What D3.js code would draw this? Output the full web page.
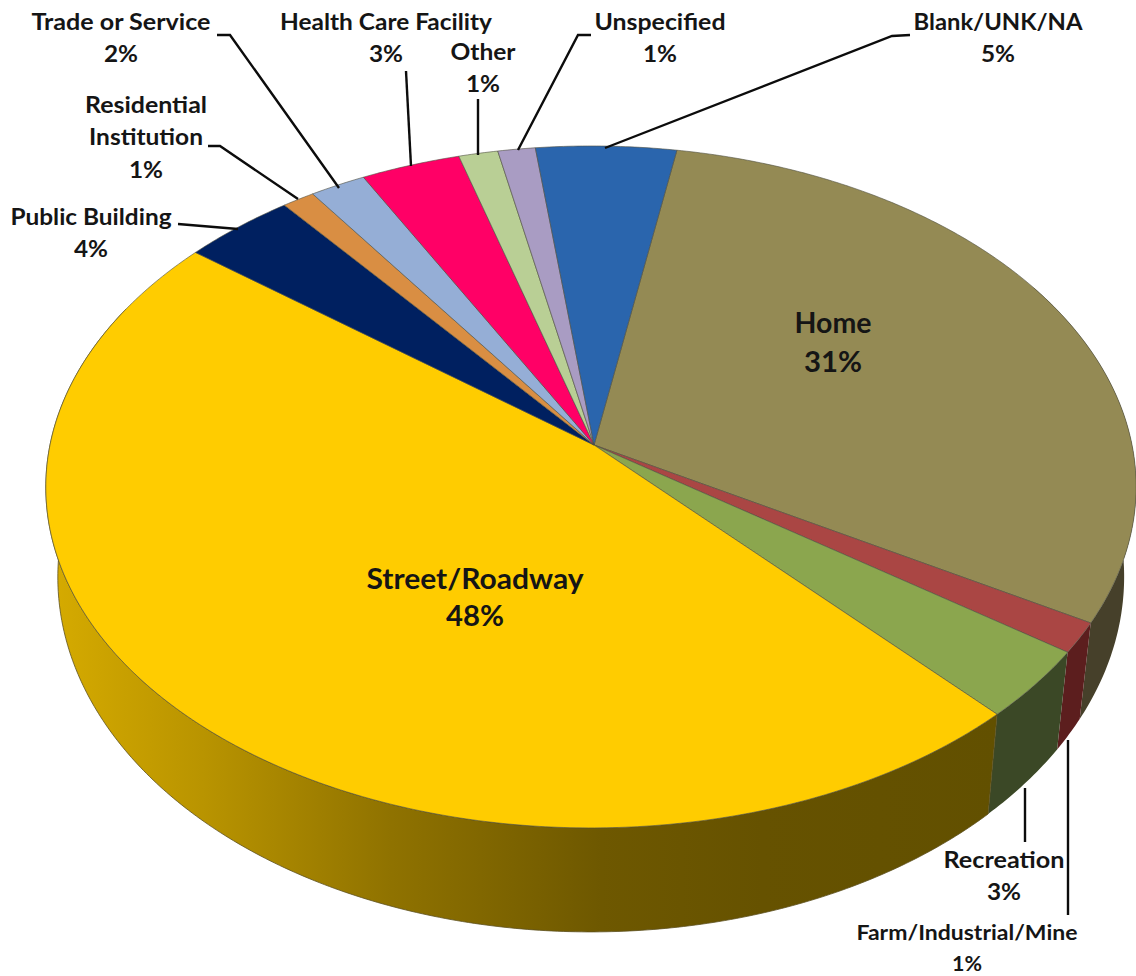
<!DOCTYPE html>
<html>
<head>
<meta charset="utf-8">
<script src="https://cdn.jsdelivr.net/npm/d3@7"></script>
<style>
html,body{margin:0;padding:0;background:#fff;overflow:hidden}
svg{display:block}
text{font-family:Lato,"Open Sans",sans-serif;font-weight:700;fill:#151515;text-anchor:middle;dominant-baseline:central}
</style>
</head>
<body>
<div id="chart"></div>
<script>
// ---- data ----
const categories = ["Home","Farm/Industrial/Mine","Recreation","Street/Roadway","Public Building","Residential Institution","Trade or Service","Health Care Facility","Other","Unspecified","Blank/UNK/NA"];
const shares = [30.58,1.44,3.31,47.44,3.72,1.08,1.86,3.31,1.31,1.25,4.69];
const percentLabels = ["31%","1%","3%","48%","4%","1%","2%","3%","1%","1%","5%"];
const topColors = ["#948a54","#aa4644","#8ba64e","#ffcc00","#002060","#d98e43","#95aed6","#ff0066","#b9cf95","#a99cc3","#2a65ad"];
const wallColors = ["#46402a","#5c1e1e","#3b4826","url(#yellowWall)","#001030","#6c4720","#4a576b","#800033","#5c674a","#544e61","#153256"];
const firstAngleDeg = 9.9;

// ---- layout ----
const W = 1136, H = 976;
const cx = 594, cy = 445, A = 541, B = 335.8, p = 0.123, q = 0.0055;
const wallScale = 0.978, wallBase = 88, wallSlope = -16;

const labelLayout = [
  {lines:["Home"],x:833,ys:[322],size:28,w:[77]},
  {lines:["Street/Roadway"],x:475,ys:[578],size:28,w:[217]},
  {lines:["Trade or Service"],x:121,ys:[21],size:23.5,w:[179]},
  {lines:["Health Care Facility"],x:386,ys:[21],size:23.5,w:[212]},
  {lines:["Other"],x:483,ys:[51],size:23.5,w:[65]},
  {lines:["Unspecified"],x:660,ys:[21],size:23.5,w:[131]},
  {lines:["Blank/UNK/NA"],x:998,ys:[21],size:23.5,w:[169]},
  {lines:["Residential","Institution"],x:146,ys:[104,136],size:23.5,w:[122,114]},
  {lines:["Public Building"],x:91,ys:[216],size:23.5,w:[161]},
  {lines:["Recreation"],x:1004,ys:[859],size:23.5,w:[121]},
  {lines:["Farm/Industrial/Mine"],x:967,ys:[932],size:20.5,w:[221]}
];
const pctLayout = {"Home":[833,361,28,58],"Street/Roadway":[475,615,28,58],"Trade or Service":[121,53,23.5,34],
  "Health Care Facility":[386,53,23.5,34],"Other":[483,83,23.5,34],"Unspecified":[660,53,23.5,34],"Blank/UNK/NA":[998,53,23.5,34],
  "Residential Institution":[146,169,23.5,34],"Public Building":[91,248,23.5,34],"Recreation":[1004,891,23.5,34],"Farm/Industrial/Mine":[967,963,20.5,30]};
const leaders = [
  [[217,35],[230,35],[339,188]],
  [[406,71],[411,166]],
  [[478,99],[478,155]],
  [[591,35],[578,35],[518,150]],
  [[910,35],[892,36],[605,148]],
  [[208,146],[220,146],[298,199]],
  [[178,224],[238,229]],
  [[1025,788],[1025,842]],
  [[1068,740],[1068,915]]
];

// projected circle: a = clockwise from top, r in 0..1
function project(a, r = 1) {
  const u = r * Math.sin(a), v = r * Math.cos(a), w = 1 + p * v + q * u;
  return [cx + A * u / w, cy - B * v / w];
}
function projectLow(a) {
  const [x, y] = project(a);
  return [cx - 3 + (x - cx + 3) * wallScale, y + wallBase + wallSlope * Math.cos(a)];
}
function samples(a0, a1) {
  const n = Math.max(2, Math.ceil((a1 - a0) / 0.01));
  return d3.range(n + 1).map(i => a0 + (a1 - a0) * i / n);
}

const svg = d3.select("#chart").append("svg").attr("width", W).attr("height", H).attr("viewBox", [0, 0, W, H]);
svg.append("rect").attr("width", W).attr("height", H).attr("fill", "#fff");

const grad = svg.append("defs").append("linearGradient").attr("id", "yellowWall")
  .attr("gradientUnits", "userSpaceOnUse").attr("x1", 50).attr("x2", 1000).attr("y1", 0).attr("y2", 0);
[[0,"#d6ab00"],[0.16,"#b99400"],[0.36,"#8f7200"],[0.58,"#6e5800"],[0.75,"#665200"],[1,"#625000"]]
  .forEach(([o, c]) => grad.append("stop").attr("offset", o).attr("stop-color", c));

const start = firstAngleDeg * Math.PI / 180;
const pie = d3.pie().sort(null).startAngle(start).endAngle(start + 2 * Math.PI);
const slices = pie(shares).map((d, i) => ({...d, i}));
const line = d3.line();

// walls, only the part facing the viewer
const frontFrom = 60 * Math.PI / 180, frontTo = 295 * Math.PI / 180;
svg.append("g").selectAll("path").data(slices.filter(d => d.endAngle > frontFrom && d.startAngle < frontTo))
  .join("path")
  .attr("d", d => {
    const a = samples(Math.max(d.startAngle, frontFrom), Math.min(d.endAngle, frontTo));
    return line([...a.map(t => project(t)), ...a.slice().reverse().map(projectLow)]) + "Z";
  })
  .attr("fill", d => wallColors[d.i])
  .attr("stroke", d => wallColors[d.i] === "url(#yellowWall)" ? "#5d5020" : "none")
  .attr("stroke-width", 0.8);

// top faces
svg.append("g").selectAll("path").data(slices).join("path")
  .attr("d", d => line([[cx, cy], ...samples(d.startAngle, d.endAngle).map(t => project(t))]) + "Z")
  .attr("fill", d => topColors[d.i])
  .attr("stroke", "#4f4f40").attr("stroke-opacity", 0.75).attr("stroke-width", 0.8);

// leader lines
svg.append("g").selectAll("path").data(leaders).join("path")
  .attr("d", d => line(d)).attr("fill", "none").attr("stroke", "#0c0c0c").attr("stroke-width", 2.4);

// labels: category names
labelLayout.forEach(l => {
  l.lines.forEach((t, i) => {
    svg.append("text").attr("x", l.x).attr("y", l.ys[i]).attr("font-size", l.size)
      .attr("textLength", l.w[i]).attr("lengthAdjust", "spacingAndGlyphs").text(t);
  });
});
// labels: percentages, taken from the data arrays
categories.forEach((c, i) => {
  const pos = pctLayout[c];
  if (!pos) return;
  svg.append("text").attr("x", pos[0]).attr("y", pos[1]).attr("font-size", pos[2])
    .attr("textLength", pos[3]).attr("lengthAdjust", "spacingAndGlyphs").text(percentLabels[i]);
});
</script>
</body>
</html>
